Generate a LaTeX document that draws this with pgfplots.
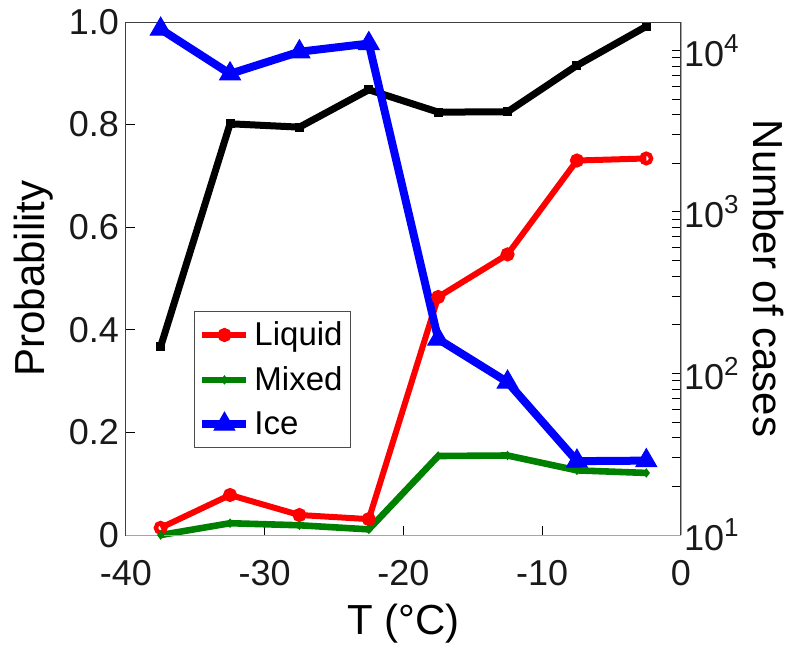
\documentclass[border=0pt]{standalone}
\usepackage{fontspec}
\setmainfont{Liberation Sans}
\usepackage{pgfplots}
\pgfplotsset{compat=1.18}

\definecolor{mred}{rgb}{1,0,0}
\definecolor{mgreen}{rgb}{0,0.5,0}
\definecolor{mblue}{rgb}{0,0,1}
\definecolor{txt}{gray}{0.1}

% probabilities per temperature bin
\pgfplotstableread{
T      liquid  mixed  ice
-37.5  0.014   0.000  0.986
-32.5  0.078   0.023  0.899
-27.5  0.039   0.019  0.942
-22.5  0.031   0.011  0.958
-17.5  0.464   0.154  0.382
-12.5  0.547   0.155  0.298
-7.5   0.730   0.126  0.144
-2.5   0.734   0.121  0.145
}\probs

\begin{document}
\begin{tikzpicture}
\pgfplotsset{
  every axis/.append style={
    scale only axis,
    width=277.5pt, height=256.5pt,
    xmin=-40, xmax=0,
    tick align=inside,
    major tick length=4.5pt,
    minor tick length=4.5pt,
    every tick/.style={black, line width=0.5pt},
    tick label style={font=\fontsize{18}{18}\selectfont, text=txt},
    clip=false,
  },
}

% number of cases, right log axis (drawn first, so it stays behind)
\begin{axis}[
  axis x line=none,
  axis y line*=right,
  axis line style={gray!70, line width=0.5pt},
  ymode=log, ymin=10, ymax=15000,
  ytick={10,100,1000,10000},
  yticklabels={10\raisebox{0.75ex}{\fontsize{13}{13}\selectfont 1},
               10\raisebox{0.75ex}{\fontsize{13}{13}\selectfont 2},
               10\raisebox{0.75ex}{\fontsize{13}{13}\selectfont 3},
               10\raisebox{0.75ex}{\fontsize{13}{13}\selectfont 4}},
  yticklabel style={xshift=-2pt},
  every axis y label/.style={at={(rel axis cs:1.158,0.5)}, rotate=-90, anchor=center,
    font=\fontsize{21}{21}\selectfont},
  ylabel={Number of cases},
]
\addplot[black, line width=3.5pt, mark=square*, mark size=2pt, mark options={line width=0.5pt}] coordinates {
  (-37.5,147) (-32.5,3515) (-27.5,3350) (-22.5,5710)
  (-17.5,4150) (-12.5,4170) (-7.5,8070) (-2.5,14090)
};
\end{axis}

% probabilities, left axis
\begin{axis}[
  axis line style={black!75, line width=0.5pt},
  tick pos=left,
  ymin=0, ymax=1,
  xtick={-40,-30,-20,-10,0},
  xticklabels={-40,-30,-20,-10,0},
  xticklabel style={yshift=-9pt},
  ytick={0,0.2,0.4,0.6,0.8,1},
  yticklabels={0,0.2,0.4,0.6,0.8,1.0},
  every axis y label/.style={at={(rel axis cs:-0.166,0.5)}, rotate=90, anchor=center,
    font=\fontsize{21}{21}\selectfont},
  every axis x label/.style={at={(rel axis cs:0.5,-0.172)}, anchor=center,
    font=\fontsize{21}{21}\selectfont},
  ylabel={Probability},
  xlabel={T (°C)},
  legend style={at={(rel axis cs:0.1225,0.4366)}, anchor=north west,
    draw=black!70, line width=0.5pt, fill=white,
    font=\fontsize{16.5}{16.5}\selectfont, row sep=5pt,
    inner xsep=2pt, inner ysep=3pt},
  legend cell align=left,
  legend image code/.code={
    \draw[mark repeat=2, mark phase=2] plot coordinates {(0pt,0pt) (11pt,0pt) (22pt,0pt)};
  },
]
\addplot[mred, line width=3pt, mark=o, mark size=2.4pt, mark options={line width=2.2pt}]
  table[x=T, y=liquid] {\probs};
\addplot[mgreen, line width=3.3pt, mark=diamond*, mark size=2pt, mark options={line width=0.5pt}]
  table[x=T, y=mixed] {\probs};
\addplot[mblue, line width=4pt, mark=triangle*, mark size=6pt, mark options={line width=0.5pt}]
  table[x=T, y=ice] {\probs};
\legend{Liquid, Mixed, Ice}
\draw[gray!70, line width=0.5pt] (rel axis cs:0,0) -- (rel axis cs:1,0);
\coordinate (bbl) at (rel axis cs:-0.227,-0.2203);
\coordinate (btr) at (rel axis cs:1.2018,1.0429);
\end{axis}
\pgfresetboundingbox
\useasboundingbox (bbl) rectangle (btr);
\end{tikzpicture}
\end{document}
